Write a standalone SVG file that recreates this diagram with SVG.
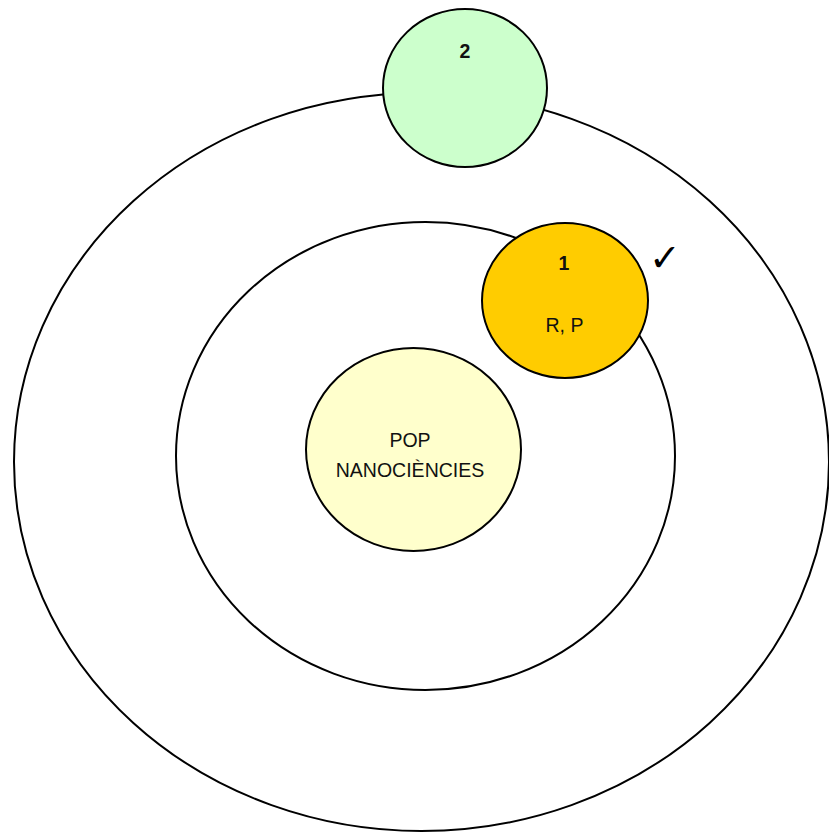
<svg xmlns="http://www.w3.org/2000/svg" width="829" height="832" viewBox="0 0 829 832">
<style>
.ring{fill:none;stroke:#000;stroke-width:2}
.node{stroke:#000;stroke-width:2}
.t{font-family:"Liberation Sans",Arial,sans-serif;font-size:21px;fill:#111;text-anchor:middle}
.b{font-weight:bold}
</style>
<rect width="829" height="832" fill="#fff"/>
<g id="rings">
<ellipse id="outer" class="ring" cx="421.5" cy="462" rx="407.5" ry="369"/>
<ellipse id="middle" class="ring" cx="425.5" cy="456" rx="249.5" ry="234"/>
</g>
<g id="node2">
<ellipse class="node" cx="465" cy="88" rx="82" ry="79" fill="#CCFFCC"/>
<text class="t b" transform="translate(465 58) scale(0.93 1)">2</text>
</g>
<g id="node1">
<ellipse class="node" cx="565" cy="300.5" rx="83" ry="77.5" fill="#FFCC00"/>
<text class="t b" transform="translate(564 270) scale(0.93 1)">1</text>
<text class="t" transform="translate(564.5 332) scale(0.93 1)">R, P</text>
</g>
<g id="check">
<text x="665" y="271" style="font-family:'DejaVu Sans',sans-serif;font-size:38px;font-weight:bold;text-anchor:middle;fill:#000">✓</text>
</g>
<g id="pop">
<ellipse class="node" cx="413.5" cy="449.5" rx="107.5" ry="101.5" fill="#FFFFCC"/>
<text class="t" transform="translate(410 447) scale(0.93 1)">POP</text>
<text class="t" transform="translate(410 477) scale(0.93 1)">NANOCIÈNCIES</text>
</g>
</svg>
